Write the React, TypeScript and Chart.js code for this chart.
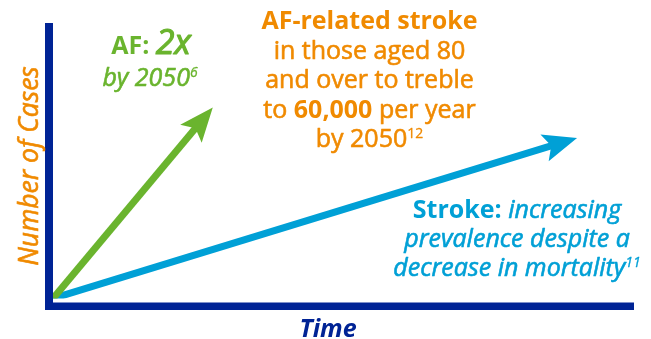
import React, { useEffect, useRef } from "react";
import { Chart, registerables } from "chart.js";

Chart.register(...registerables);

// ---- data (unitless: time vs number of cases) ----
const seriesNames = ["AF", "Stroke"];
const afTime = [0, 27.5];
const afCases = [0, 69.3];
const strokeTime = [0, 90.2];
const strokeCases = [0, 58.3];
const axisMin = 0;
const axisMax = 100;

// ---- texts ----
const xTitle = "Time";
const yTitle = "Number of Cases";
type Run = { t: string; s: string };
const afNote: Run[][] = [
  [{ t: "AF: ", s: "b" }, { t: "2x", s: "bigi" }],
  [{ t: "by 2050", s: "i" }, { t: "6", s: "supi" }],
];
const afStrokeNote: Run[][] = [
  [{ t: "AF-related stroke", s: "b" }],
  [{ t: "in those aged 80", s: "r" }],
  [{ t: "and over to treble", s: "r" }],
  [{ t: "to ", s: "r" }, { t: "60,000", s: "b" }, { t: " per year", s: "r" }],
  [{ t: "by 2050", s: "r" }, { t: "12", s: "sup" }],
];
const strokeNote: Run[][] = [
  [{ t: "Stroke: ", s: "b" }, { t: "increasing", s: "i" }],
  [{ t: "prevalence despite a", s: "i" }],
  [{ t: "decrease in mortality", s: "i" }, { t: "11", s: "supi" }],
];

const NAVY = "#002395";
const ORANGE = "#F08A00";
const GREEN = "#6AB42E";
const BLUE = "#00A0D6";
const FAM = "'Open Sans', 'Noto Sans', sans-serif";

const FONTS: Record<string, { f: string; dy: number; sw: number }> = {
  b: { f: `bold 25px ${FAM}`, dy: 0, sw: 0 },
  r: { f: `25px ${FAM}`, dy: 0, sw: 0.6 },
  i: { f: `italic 25px ${FAM}`, dy: 0, sw: 0.6 },
  bigi: { f: `italic 34px ${FAM}`, dy: 0, sw: 1.2 },
  sup: { f: `14px ${FAM}`, dy: -9, sw: 0.3 },
  supi: { f: `italic 14px ${FAM}`, dy: -9, sw: 0.3 },
};

function drawRuns(ctx: CanvasRenderingContext2D, runs: Run[], cx: number, base: number, color: string) {
  const widths = runs.map((r) => {
    ctx.font = FONTS[r.s].f;
    return ctx.measureText(r.t).width;
  });
  const total = widths.reduce((a, b) => a + b, 0);
  let x = cx - total / 2;
  ctx.fillStyle = color;
  ctx.strokeStyle = color;
  ctx.lineJoin = "round";
  ctx.textAlign = "left";
  ctx.textBaseline = "alphabetic";
  runs.forEach((r, i) => {
    const st = FONTS[r.s];
    ctx.font = st.f;
    ctx.fillText(r.t, x, base + st.dy);
    if (st.sw > 0) {
      ctx.lineWidth = st.sw;
      ctx.strokeText(r.t, x, base + st.dy);
    }
    x += widths[i];
  });
}

function drawBlock(ctx: CanvasRenderingContext2D, lines: Run[][], cx: number, firstBase: number, lh: number, color: string) {
  lines.forEach((l, i) => drawRuns(ctx, l, cx, firstBase + i * lh, color));
}

const HEAD_LEN = 34;
const HEAD_HALF = 14;
const HEAD_NOTCH = 27;

function frame(meta: any) {
  const pts = meta.data;
  const a = pts[pts.length - 2];
  const b = pts[pts.length - 1];
  const dx = b.x - a.x;
  const dy = b.y - a.y;
  const len = Math.hypot(dx, dy) || 1;
  const ux = dx / len;
  const uy = dy / len;
  return { tx: b.x, ty: b.y, ux, uy, nx: -uy, ny: ux };
}

const arrowPlugin = {
  id: "arrowPlugin",
  beforeDatasetDraw(chart: any, args: any) {
    const ctx = chart.ctx;
    const f = frame(args.meta);
    const px = f.tx - (HEAD_NOTCH - 3) * f.ux;
    const py = f.ty - (HEAD_NOTCH - 3) * f.uy;
    const B = 3000;
    ctx.save();
    ctx.beginPath();
    ctx.moveTo(px + f.nx * B, py + f.ny * B);
    ctx.lineTo(px - f.nx * B, py - f.ny * B);
    ctx.lineTo(px - f.nx * B - f.ux * B, py - f.ny * B - f.uy * B);
    ctx.lineTo(px + f.nx * B - f.ux * B, py + f.ny * B - f.uy * B);
    ctx.closePath();
    ctx.clip();
  },
  afterDatasetDraw(chart: any) {
    chart.ctx.restore();
  },
  afterDatasetsDraw(chart: any) {
    const ctx = chart.ctx as CanvasRenderingContext2D;
    chart.data.datasets.forEach((ds: any, i: number) => {
      const f = frame(chart.getDatasetMeta(i));
      const bx = f.tx - HEAD_LEN * f.ux;
      const by = f.ty - HEAD_LEN * f.uy;
      ctx.save();
      ctx.fillStyle = ds.borderColor;
      ctx.beginPath();
      ctx.moveTo(f.tx, f.ty);
      ctx.lineTo(bx + HEAD_HALF * f.nx, by + HEAD_HALF * f.ny);
      ctx.lineTo(f.tx - HEAD_NOTCH * f.ux, f.ty - HEAD_NOTCH * f.uy);
      ctx.lineTo(bx - HEAD_HALF * f.nx, by - HEAD_HALF * f.ny);
      ctx.closePath();
      ctx.fill();
      ctx.restore();
    });

    // axes
    const { left, top, right, bottom } = chart.chartArea;
    ctx.save();
    ctx.fillStyle = NAVY;
    ctx.fillRect(left - 8, top, 8, bottom + 11.5 - top);
    ctx.fillRect(left - 8, bottom + 4, right - left + 8, 7.5);

    // axis titles
    ctx.font = `italic bold 25px ${FAM}`;
    ctx.fillStyle = NAVY;
    ctx.textAlign = "center";
    ctx.textBaseline = "alphabetic";
    ctx.fillText(xTitle, 328, 337);

    ctx.translate(38, 166);
    ctx.rotate(-Math.PI / 2);
    ctx.font = `italic 26.5px ${FAM}`;
    ctx.fillStyle = ORANGE;
    ctx.strokeStyle = ORANGE;
    ctx.lineWidth = 0.6;
    ctx.fillText(yTitle, 0, 0);
    ctx.strokeText(yTitle, 0, 0);
    ctx.restore();

    // annotations
    ctx.save();
    drawRuns(ctx, afNote[0], 151, 54, GREEN);
    drawRuns(ctx, afNote[1], 150, 86, GREEN);
    drawBlock(ctx, afStrokeNote, 369.5, 29.3, 29.5, ORANGE);
    drawBlock(ctx, strokeNote, 517, 218.3, 29, BLUE);
    ctx.restore();
  },
};

export default function App() {
  const ref = useRef<HTMLCanvasElement>(null);
  useEffect(() => {
    const canvas = ref.current;
    if (!canvas) return;
    const chart = new Chart(canvas, {
      type: "line",
      data: {
        datasets: [
          {
            label: seriesNames[0],
            data: afTime.map((x, i) => ({ x, y: afCases[i] })),
            borderColor: GREEN,
            backgroundColor: GREEN,
          },
          {
            label: seriesNames[1],
            data: strokeTime.map((x, i) => ({ x, y: strokeCases[i] })),
            borderColor: BLUE,
            backgroundColor: BLUE,
          },
        ],
      },
      options: {
        animation: false,
        responsive: false,
        devicePixelRatio: 1,
        layout: { padding: { left: 53, top: 23, right: 17, bottom: 40.5 } },
        elements: {
          line: { borderWidth: 7, tension: 0, fill: false, borderCapStyle: "butt" },
          point: { radius: 0, hoverRadius: 0 },
        },
        scales: {
          x: { type: "linear", min: axisMin, max: axisMax, display: false },
          y: { type: "linear", min: axisMin, max: axisMax, display: false },
        },
        plugins: { legend: { display: false }, tooltip: { enabled: false } },
      },
      plugins: [arrowPlugin],
    } as any);
    const fonts = (document as any).fonts;
    if (fonts && fonts.load) {
      Promise.all(
        [`25px ${FAM}`, `bold 25px ${FAM}`, `italic 25px ${FAM}`, `italic bold 25px ${FAM}`].map((f) => fonts.load(f))
      ).then(() => chart.update()).catch(() => {});
    }
    return () => chart.destroy();
  }, []);
  return (
    <div style={{ position: "absolute", left: 0, top: 0, width: 651, height: 339, background: "#fff" }}>
      <canvas ref={ref} width={651} height={339} style={{ display: "block" }} />
    </div>
  );
}
